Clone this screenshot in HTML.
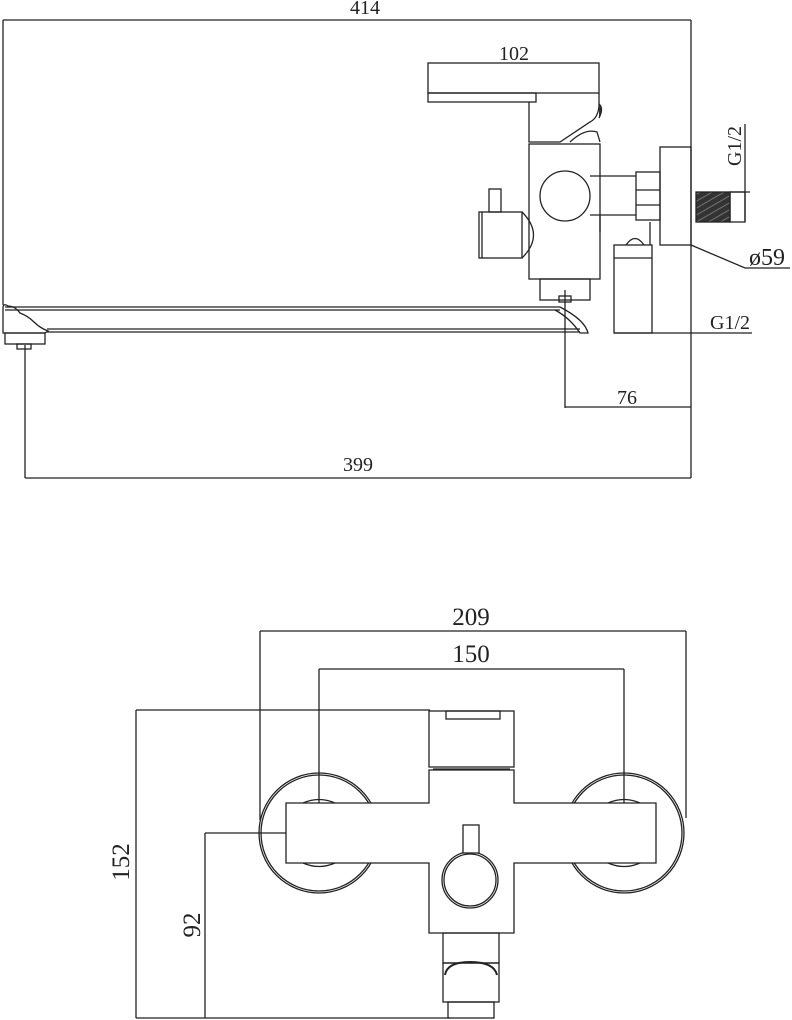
<!DOCTYPE html>
<html><head><meta charset="utf-8"><style>
html,body{margin:0;padding:0;background:#fff;}
svg{display:block;}
text{font-family:"Liberation Serif",serif;fill:#222;}
</style></head><body>
<svg width="792" height="1020" viewBox="0 0 792 1020" xmlns="http://www.w3.org/2000/svg">
<defs>
<pattern id="h" width="6" height="6" patternUnits="userSpaceOnUse" patternTransform="rotate(60)">
<rect width="6" height="6" fill="#333"/><line x1="0" y1="0" x2="0" y2="6" stroke="#888" stroke-width="1.5"/>
</pattern>
</defs>
<g fill="none" stroke="#222" stroke-width="1.3">
<line x1="3" y1="20" x2="691" y2="20"/>
<line x1="3" y1="20" x2="3" y2="305"/>
<line x1="691" y1="20" x2="691" y2="478"/>
<rect x="428" y="63" width="171" height="30"/>
<rect x="428" y="93" width="108" height="9"/>
<path d="M529 102 V142 H560 L590 122 Q598 118 599 106 V93"/>
<path d="M599 104 q5 4 0 14" fill="#333"/>
<path d="M570 142 Q585 128 597 132 L600 142"/>
<rect x="529" y="144" width="71" height="135"/>
<circle cx="565" cy="196" r="25" fill="#fff"/>
<path d="M590 176 H636 M590 215 H636 M600 215 V232"/>
<rect x="636" y="172" width="24" height="48"/>
<line x1="636" y1="190" x2="660" y2="190"/><line x1="636" y1="205" x2="660" y2="205"/>
<rect x="660" y="147" width="31" height="98"/>
<rect x="696" y="192" width="34" height="30" fill="url(#h)"/>
<rect x="730" y="192" width="15" height="30"/>
<line x1="745" y1="124" x2="745" y2="222"/>
<line x1="730" y1="192" x2="750" y2="192"/>
<polyline points="691,245 745,268 790,268"/>
<rect x="479" y="212" width="43" height="46"/>
<line x1="482" y1="212" x2="482" y2="258"/>
<path d="M522 212 Q545 235 522 258"/>
<rect x="489" y="189" width="12" height="23"/>
<path d="M626 245 Q635 232 644 245"/>
<rect x="614" y="245" width="38" height="88"/>
<line x1="614" y1="258" x2="652" y2="258"/>
<line x1="650" y1="222" x2="650" y2="245"/>
<line x1="614" y1="333" x2="752" y2="333"/>
<rect x="540" y="279" width="50" height="21"/>
<rect x="559" y="296" width="12" height="6"/>
<line x1="5" y1="307" x2="560" y2="307"/>
<line x1="5" y1="310" x2="560" y2="310"/>
<line x1="47" y1="329" x2="580" y2="329"/>
<line x1="47" y1="332" x2="580" y2="332"/>
<path d="M560 307 Q585 320 588 333 L580 333 Q570 318 555 310"/>
<path d="M3 307 Q4 303 8 306 Q15 306 20 313 Q28 316 34 322 Q40 328 48 331 L45 333 L3 333 Z"/>
<rect x="5" y="333" width="40" height="11"/>
<rect x="17" y="344" width="14" height="5"/>
<line x1="565" y1="290" x2="565" y2="408"/>
<line x1="565" y1="407" x2="691" y2="407"/>
<line x1="25" y1="345" x2="25" y2="478"/>
<line x1="25" y1="478" x2="691" y2="478"/>

<line x1="260" y1="631" x2="686" y2="631"/>
<line x1="260" y1="631" x2="260" y2="820"/>
<line x1="686" y1="631" x2="686" y2="818"/>
<line x1="319" y1="669" x2="624" y2="669"/>
<line x1="319" y1="669" x2="319" y2="833"/>
<line x1="624" y1="669" x2="624" y2="833"/>
<line x1="136" y1="710" x2="430" y2="710"/>
<line x1="136" y1="710" x2="136" y2="1018"/>
<line x1="205" y1="833" x2="319" y2="833"/>
<line x1="205" y1="833" x2="205" y2="1018"/>
<line x1="136" y1="1018" x2="450" y2="1018"/>
<circle cx="319" cy="833" r="60"/><circle cx="319" cy="833" r="58"/>
<circle cx="624" cy="833" r="60"/><circle cx="624" cy="833" r="58"/>
<path d="M303 803 Q319 796 335 803 M303 863 Q319 870 335 863 M608 803 Q624 796 640 803 M608 863 Q624 870 640 863"/>
<path d="M429 770 V803 H286 V863 H429 V933 H514 V863 H656 V803 H514 V770 Z" fill="#fff"/>
<rect x="429" y="711" width="85" height="56"/>
<rect x="446" y="711" width="54" height="8"/>
<line x1="433" y1="769" x2="510" y2="769"/>
<circle cx="470" cy="880" r="28"/><circle cx="470" cy="880" r="26"/>
<rect x="463" y="825" width="16" height="28" fill="#fff"/>
<rect x="443" y="933" width="56" height="30"/>
<rect x="443" y="963" width="56" height="39"/>
<path d="M445 975 Q447 962 470 962 Q494 962 497 975" stroke-width="2"/>
<rect x="448" y="1002" width="46" height="16"/>
</g>
<g font-size="20">
<text x="365" y="14" text-anchor="middle">414</text>
<text x="514" y="60" text-anchor="middle">102</text>
<text x="627" y="404" text-anchor="middle">76</text>
<text x="358" y="471" text-anchor="middle">399</text>
<text x="730" y="329" text-anchor="middle">G1/2</text>
<text transform="translate(741,146) rotate(-90)" text-anchor="middle">G1/2</text>
<text x="767" y="265" text-anchor="middle" font-family="Liberation Sans,sans-serif" font-size="24">ø59</text>
</g>
<g font-size="25">
<text x="471" y="625" text-anchor="middle" font-family="Liberation Sans,sans-serif">209</text>
<text x="471" y="662" text-anchor="middle" font-family="Liberation Sans,sans-serif">150</text>
<text transform="translate(129,862) rotate(-90)" text-anchor="middle" font-family="Liberation Sans,sans-serif">152</text>
<text transform="translate(200,925) rotate(-90)" text-anchor="middle" font-family="Liberation Sans,sans-serif">92</text>
</g>
</svg>
</body></html>
